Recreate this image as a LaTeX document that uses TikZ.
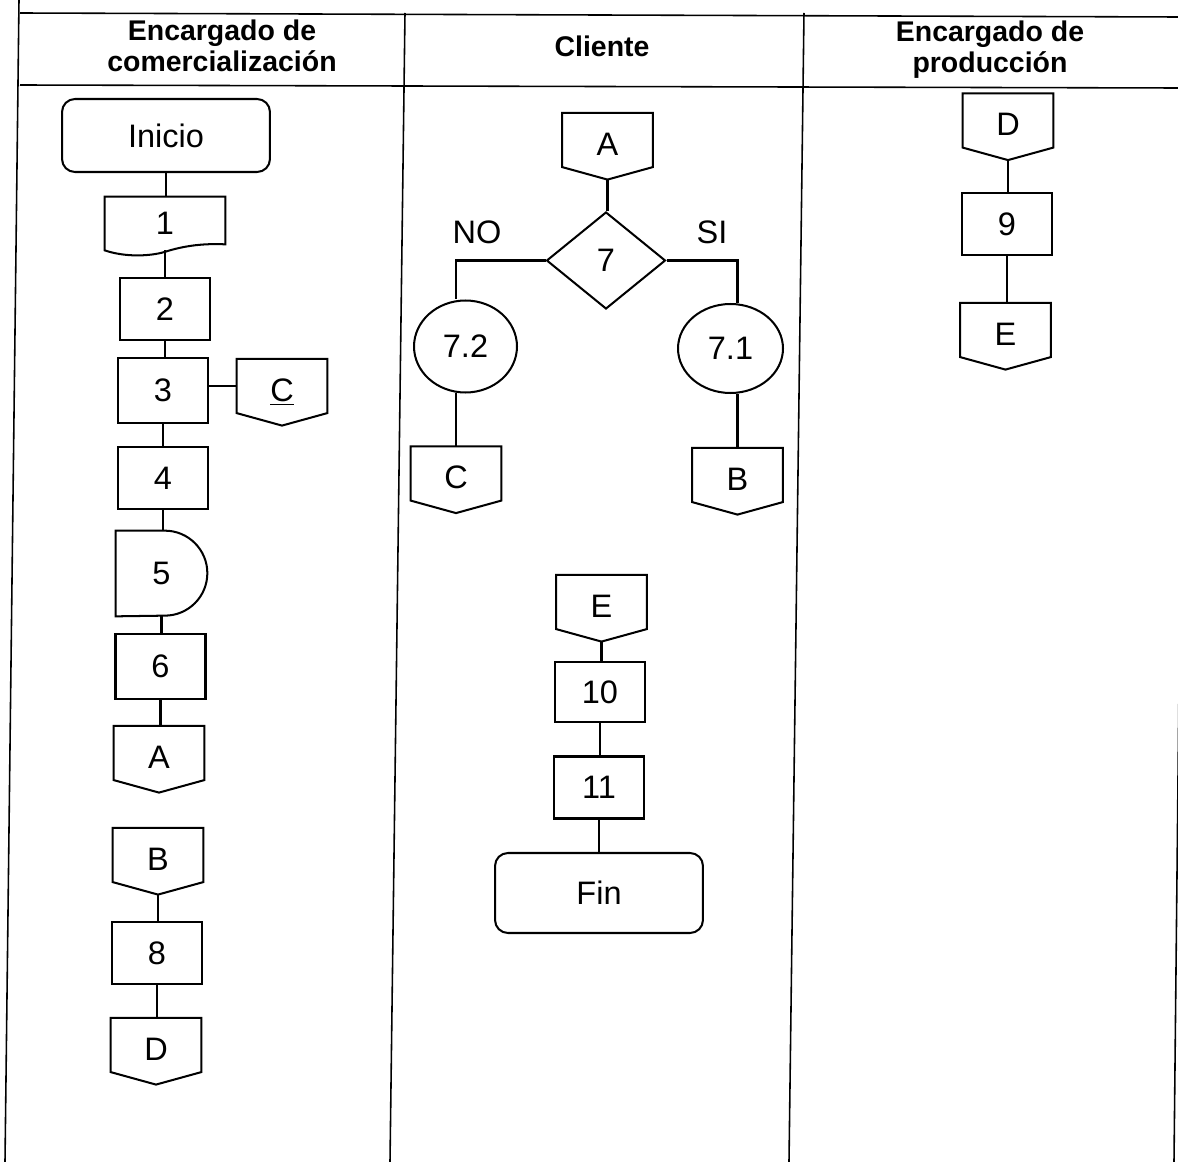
\documentclass[tikz,border=0pt]{standalone}
\usepackage{fontspec}
\setmainfont{Liberation Sans}
\usetikzlibrary{shapes.geometric,calc}

\tikzset{
 ln/.style={line width=1.15pt, draw=black},
 tbl/.style={line width=0.9pt, draw=black},
 lbl/.style={font=\fontsize{18.5}{21}\selectfont},
 hdr/.style={font=\fontsize{16.2}{17.8}\selectfont\bfseries, align=center},
 proc/.style={ln, rectangle, minimum width=1.8cm, minimum height=1.24cm, inner sep=0pt, lbl},
 term/.style={ln, rectangle, rounded corners=0.26cm, minimum width=4.16cm, minimum height=1.46cm, inner sep=0pt, lbl},
 decision/.style={ln, diamond, minimum width=2.38cm, minimum height=1.94cm, inner sep=0pt, lbl},
 bubble/.style={ln, ellipse, minimum width=2.06cm, minimum height=1.84cm, inner sep=0pt, lbl},
 offp/.style={rectangle, minimum width=1.8cm, minimum height=1.07cm, inner sep=0pt, lbl, text height=0.62cm, text depth=0cm,
   append after command={\pgfextra{\draw[ln] (\tikzlastnode.north west) -- (\tikzlastnode.north east) -- (\tikzlastnode.south east) -- ($(\tikzlastnode.south)+(0,-0.25cm)$) -- (\tikzlastnode.south west) -- cycle;}}},
 delaybox/.style={rectangle, minimum width=1.82cm, minimum height=1.7cm, inner sep=0pt, lbl,
   append after command={\pgfextra{\draw[ln] (\tikzlastnode.north west) -- ($(\tikzlastnode.north east)+(-0.85cm,0)$) arc[start angle=90, end angle=-90, radius=0.85cm] -- (\tikzlastnode.south west) -- cycle;}}},
 docu/.style={rectangle, minimum width=2.4cm, minimum height=1.06cm, inner sep=0pt, lbl,
   append after command={\pgfextra{\draw[ln] (\tikzlastnode.north east) -- (\tikzlastnode.north west) -- (\tikzlastnode.south west)
     .. controls ($(\tikzlastnode.south)+(-0.8cm,-0.14cm)$) and ($(\tikzlastnode.south)+(-0.3cm,-0.12cm)$) .. ($(\tikzlastnode.south)+(0,-0.03cm)$)
     .. controls ($(\tikzlastnode.south)+(0.4cm,0.1cm)$) and ($(\tikzlastnode.south)+(0.8cm,0.14cm)$) .. ($(\tikzlastnode.south east)+(0,0.12cm)$) -- cycle;}}},
}

\begin{document}
\begin{tikzpicture}[x=0.02cm, y=-0.02cm]
\useasboundingbox (0,0) rectangle (1178,1162);
\clip (0,0) rectangle (1178,1162);

% table
\draw[tbl] (20,13) -- (1178,17);
\draw[tbl] (20,85) -- (1178,88);
\draw[tbl] (19,0) -- (5,1162);
\draw[tbl] (405,13) -- (390,1162);
\draw[tbl] (804,13) -- (789,1162);
\draw[tbl] (1186,13) -- (1174,1162);

% headers
\node[hdr] (h1) at (222,46) {Encargado de\\comercialización};
\node[hdr] (h2) at (602,46) {Cliente};
\node[hdr] (h3) at (990,50) {Encargado de\\producción};

% column 1
\node[term] (inicio) at (166,135.5) {Inicio};
\node[docu] (n1) at (165,223.5) {1};
\node[proc] (n2) at (165,309) {2};
\node[proc, minimum height=1.3cm] (n3) at (163,390.5) {3};
\node[offp] (c1) at (282,386) {\underline{C}};
\node[proc] (n4) at (163,478) {4};
\node[delaybox] (n5) at (161.5,573.5) {5};
\node[proc, minimum height=1.3cm] (n6) at (160.5,666.5) {6};
\node[offp] (a1) at (159,753) {A};
\node[offp] (b1) at (158,855) {B};
\node[proc] (n8) at (157,953) {8};
\node[offp] (d1) at (156,1045) {D};

% column 2
\node[offp] (a2) at (607.5,140) {A};
\node[decision] (n7) at (606,260.5) {7};
\node[lbl] (no) at (477,232) {NO};
\node[lbl] (si) at (712,232) {SI};
\node[bubble] (e72) at (465.5,346.5) {7.2};
\node[bubble, minimum width=2.1cm, minimum height=1.78cm] (e71) at (730.5,348.5) {7.1};
\node[offp] (c2) at (456,473.5) {C};
\node[offp] (b2) at (737.5,475) {B};
\node[offp] (e2) at (601.5,602) {E};
\node[proc, minimum height=1.2cm] (n10) at (600,692) {10};
\node[proc] (n11) at (599,787.5) {11};
\node[term, minimum height=1.6cm] (fin) at (599,893) {Fin};

% column 3
\node[offp] (d3) at (1008,120.5) {D};
\node[proc] (n9) at (1007,224) {9};
\node[offp] (e3) at (1005.5,330) {E};

% connectors (vertical)
\draw[ln] (inicio.south) -- (inicio.south |- n1.north);
\draw[ln] (n1.south) -- (n1.south |- n2.north);
\draw[ln] (n2.south) -- (n2.south |- n3.north);
\draw[ln] (n3.east |- c1.west) -- (c1.west);
\draw[ln] (n3.south) -- (n3.south |- n4.north);
\draw[ln] (n4.south) -- (n4.south |- n5.north);
\draw[ln] (n5.south) -- (n5.south |- n6.north);
\draw[ln] (n6.south) -- (n6.south |- a1.north);
\draw[ln, shorten <=0.25cm] (b1.south) -- (b1.south |- n8.north);
\draw[ln] (n8.south) -- (n8.south |- d1.north);

\draw[ln, shorten <=0.25cm] (a2.south) -- (a2.south |- n7.north);
\draw[ln] (n7.west) -| (c2.north |- e72.north);
\draw[ln] (n7.east) -| (b2.north |- e71.north);
\draw[ln] (c2.north |- e72.south) -- (c2.north);
\draw[ln] (b2.north |- e71.south) -- (b2.north);
\draw[ln, shorten <=0.25cm] (e2.south) -- (e2.south |- n10.north);
\draw[ln] (n10.south) -- (n10.south |- n11.north);
\draw[ln] (n11.south) -- (n11.south |- fin.north);

\draw[ln, shorten <=0.25cm] (d3.south) -- (d3.south |- n9.north);
\draw[ln] (n9.south) -- (n9.south |- e3.north);
\end{tikzpicture}
\end{document}
